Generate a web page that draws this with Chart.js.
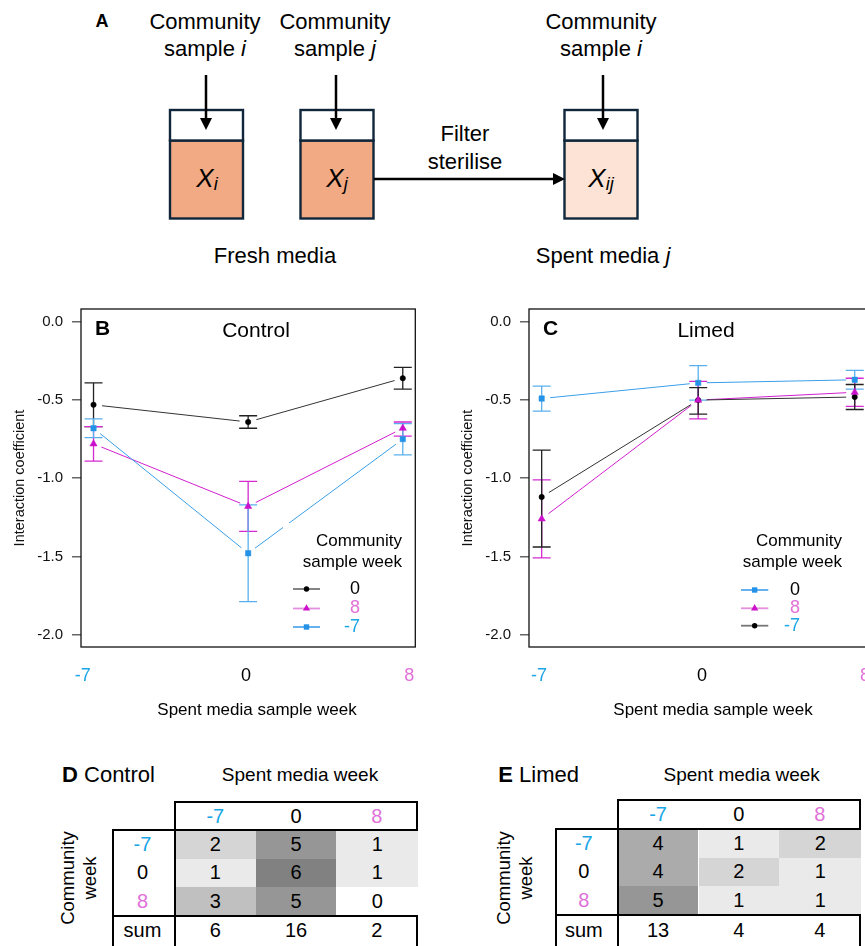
<!DOCTYPE html>
<html>
<head>
<meta charset="utf-8">
<script src="https://cdn.jsdelivr.net/npm/chart.js@4.4.1/dist/chart.umd.min.js"></script>
<style>
    html, body { margin: 0; padding: 0; background: #fff; }
    body { width: 865px; height: 946px; overflow: hidden; position: relative; font-family: "Liberation Sans", Arial, sans-serif; color: #000; }
    canvas { position: absolute; }
    .cell { position: absolute; display: flex; align-items: center; justify-content: center; font-size: 20px; }
    .rule { position: absolute; background: #000; }
    .txt { position: absolute; white-space: nowrap; }
</style>
</head>
<body>

<svg style="position:absolute;left:0;top:0" width="865" height="290" font-family="Liberation Sans, Arial, sans-serif">
    <text x="102" y="21" font-size="18" font-weight="bold" text-anchor="middle" dominant-baseline="central">A</text>
    <g font-size="22" text-anchor="middle" dominant-baseline="central">
        <text x="205" y="21">Community</text>
        <text x="205" y="48">sample <tspan font-style="italic">i</tspan></text>
        <text x="335" y="21">Community</text>
        <text x="335" y="48">sample <tspan font-style="italic">j</tspan></text>
        <text x="601" y="21">Community</text>
        <text x="601" y="48">sample <tspan font-style="italic">i</tspan></text>
        <text x="465" y="133">Filter</text>
        <text x="465" y="161">sterilise</text>
        <text x="275" y="255">Fresh media</text>
        <text x="603" y="255">Spent media <tspan font-style="italic">j</tspan></text>
    </g>
    <g stroke="#10263a" stroke-width="2.4">
        <rect x="170" y="140.5" width="73" height="78" fill="#f2aa84"/>
        <rect x="170" y="110" width="73" height="30.5" fill="#fff"/>
        <rect x="300.5" y="140.5" width="73" height="78" fill="#f2aa84"/>
        <rect x="300.5" y="110" width="73" height="30.5" fill="#fff"/>
        <rect x="564.5" y="140.5" width="73" height="78" fill="#fce3d5"/>
        <rect x="564.5" y="110" width="73" height="30.5" fill="#fff"/>
    </g>
    <g stroke="#000" stroke-width="2.5">
        <line x1="206" y1="75" x2="206" y2="120"/>
        <line x1="336" y1="75" x2="336" y2="120"/>
        <line x1="603" y1="75" x2="603" y2="120"/>
        <line x1="374" y1="179" x2="555" y2="179"/>
    </g>
    <g fill="#000">
        <polygon points="206,130 200,118 212,118"/>
        <polygon points="336,130 330,118 342,118"/>
        <polygon points="603,130 597,118 609,118"/>
        <polygon points="565,179 553,173 553,185"/>
    </g>
    <g font-size="26" font-style="italic" text-anchor="middle" dominant-baseline="central">
        <text x="207" y="178">X<tspan font-size="18" dy="6">i</tspan></text>
        <text x="337" y="178">X<tspan font-size="18" dy="6">j</tspan></text>
        <text x="601" y="178">X<tspan font-size="18" dy="6">ij</tspan></text>
    </g>
</svg>

<canvas id="control" width="420" height="425" style="left:0;top:300px"></canvas>
<canvas id="limed" width="440" height="425" style="left:448px;top:300px"></canvas>
<div id="tables"></div>

<script>
const FONT = '"Liberation Sans", Arial, sans-serif';

// weeks
const spentWeeks = ['-7', '0', '8'];
const communityWeeks = ['-7', '0', '8'];
const yTickValues = [0, -0.5, -1, -1.5, -2];

// B: control, interaction coefficient (mean and error bar ends) per spent media week
const controlWeek0Mean = [-0.53, -0.64, -0.36];
const controlWeek0Lo = [-0.67, -0.68, -0.43];
const controlWeek0Hi = [-0.39, -0.60, -0.29];
const controlWeek8Mean = [-0.78, -1.18, -0.68];
const controlWeek8Lo = [-0.89, -1.34, -0.73];
const controlWeek8Hi = [-0.67, -1.02, -0.64];
const controlWeekM7Mean = [-0.68, -1.48, -0.75];
const controlWeekM7Lo = [-0.74, -1.79, -0.85];
const controlWeekM7Hi = [-0.62, -1.17, -0.65];

// C: limed
const limedWeek0Mean = [-0.49, -0.39, -0.37];
const limedWeek0Lo = [-0.57, -0.50, -0.43];
const limedWeek0Hi = [-0.41, -0.28, -0.31];
const limedWeek8Mean = [-1.26, -0.50, -0.45];
const limedWeek8Lo = [-1.51, -0.62, -0.54];
const limedWeek8Hi = [-1.01, -0.38, -0.36];
const limedWeekM7Mean = [-1.12, -0.50, -0.48];
const limedWeekM7Lo = [-1.44, -0.59, -0.56];
const limedWeekM7Hi = [-0.82, -0.42, -0.40];

// D / E: counts (rows = community week, cols = spent media week)
const controlCounts = [[2, 5, 1], [1, 6, 1], [3, 5, 0]];
const controlSums = [6, 16, 2];
const limedCounts = [[4, 1, 2], [4, 2, 1], [5, 1, 1]];
const limedSums = [13, 4, 4];

const weekColours = { '-7': '#1aa6e6', '0': '#000000', '8': '#e070d8' };

const black = { line: '#333', bar: '#222', point: '#000', style: 'circle', radius: 2.7, legendLine: '#777' };
const magenta = { line: '#d21fcf', bar: '#d42ad0', point: '#cc11cc', style: 'triangle', radius: 4.2, legendLine: '#e58fe0' };
const blue = { line: '#3a9fe8', bar: '#5ab0ee', point: '#2492e6', style: 'rect', radius: 3.8, legendLine: '#55aaee' };

const controlSeries = [
    { week: '0', mean: controlWeek0Mean, lo: controlWeek0Lo, hi: controlWeek0Hi, ...black },
    { week: '8', mean: controlWeek8Mean, lo: controlWeek8Lo, hi: controlWeek8Hi, ...magenta },
    { week: '-7', mean: controlWeekM7Mean, lo: controlWeekM7Lo, hi: controlWeekM7Hi, ...blue }
];
const limedSeries = [
    { week: '0', mean: limedWeek0Mean, lo: limedWeek0Lo, hi: limedWeek0Hi, ...blue },
    { week: '8', mean: limedWeek8Mean, lo: limedWeek8Lo, hi: limedWeek8Hi, ...magenta },
    { week: '-7', mean: limedWeekM7Mean, lo: limedWeekM7Lo, hi: limedWeekM7Hi, ...black }
];

function marker(ctx, style, x, y, colour) {
    ctx.fillStyle = colour;
    ctx.beginPath();
    if (style === 'circle') ctx.arc(x, y, 2.7, 0, 2 * Math.PI);
    else if (style === 'rect') ctx.rect(x - 2.7, y - 2.7, 5.4, 5.4);
    else { ctx.moveTo(x, y - 4.2); ctx.lineTo(x + 3.6, y + 2.1); ctx.lineTo(x - 3.6, y + 2.1); ctx.closePath(); }
    ctx.fill();
}

// lines with a gap at each point (type "b") and error bars
const errorBars = {
    id: 'errorBars',
    beforeDatasetsDraw(chart) {
        const { ctx, scales: { y } } = chart;
        chart.data.datasets.forEach((ds, i) => {
            const pts = chart.getDatasetMeta(i).data;
            ctx.save();
            ctx.lineWidth = 1;
            ctx.strokeStyle = ds.lineColour;
            for (let k = 0; k < pts.length - 1; k++) {
                const a = pts[k], b = pts[k + 1];
                const dx = b.x - a.x, dy = b.y - a.y, g = 8.5 / Math.hypot(dx, dy);
                ctx.beginPath();
                ctx.moveTo(a.x + dx * g, a.y + dy * g);
                ctx.lineTo(b.x - dx * g, b.y - dy * g);
                ctx.stroke();
            }
            ctx.lineWidth = 1.3;
            ctx.strokeStyle = ds.barColour;
            pts.forEach((p, k) => {
                const top = y.getPixelForValue(ds.hi[k]);
                const bot = y.getPixelForValue(ds.lo[k]);
                ctx.beginPath();
                ctx.moveTo(p.x, top); ctx.lineTo(p.x, bot);
                ctx.moveTo(p.x - 9, top); ctx.lineTo(p.x + 9, top);
                ctx.moveTo(p.x - 9, bot); ctx.lineTo(p.x + 9, bot);
                ctx.stroke();
            });
            ctx.restore();
        });
    }
};

const panel = {
    id: 'panel',
    afterDatasetsDraw(chart, args, o) {
        const { ctx, chartArea: a } = chart;
        ctx.save();
        if (o.mask) {
            ctx.fillStyle = '#fff';
            ctx.fillRect(o.mask[0], o.mask[1], a.right - o.mask[0], a.bottom - o.mask[1]);
        }
        ctx.strokeStyle = '#111';
        ctx.lineWidth = 1.3;
        ctx.strokeRect(a.left, a.top, a.width, a.height);

        ctx.fillStyle = '#000';
        ctx.textBaseline = 'middle';
        ctx.font = 'bold 21px ' + FONT;
        ctx.textAlign = 'left';
        ctx.fillText(o.letter, a.left + 14, 29);
        ctx.font = '21px ' + FONT;
        ctx.textAlign = 'center';
        ctx.fillText(o.title, o.titleX, 31);
        ctx.font = '17px ' + FONT;
        ctx.fillText('Spent media sample week', o.xTitleX, 410);

        // legend
        ctx.textAlign = 'right';
        ctx.fillText('Community', o.headRight, o.headY[0]);
        ctx.fillText('sample week', o.headRight, o.headY[1]);
        ctx.font = '18px ' + FONT;
        chart.data.datasets.forEach((ds, k) => {
            const yy = o.rowY[k];
            ctx.strokeStyle = ds.legendLine;
            ctx.lineWidth = 1.8;
            ctx.beginPath();
            ctx.moveTo(o.lineX[0], yy);
            ctx.lineTo(o.lineX[1], yy);
            ctx.stroke();
            marker(ctx, ds.pointStyle, (o.lineX[0] + o.lineX[1]) / 2, yy, ds.pointBackgroundColor);
            ctx.fillStyle = weekColours[ds.label];
            ctx.fillText(ds.label, o.labelRight, yy);
        });
        ctx.restore();
    }
};

Chart.defaults.font.family = FONT;
Chart.defaults.color = '#111';

function criarPainel(id, series, deco, xl) {
    return new Chart(document.getElementById(id), {
        type: 'scatter',
        data: {
            datasets: series.map(s => ({
                label: s.week,
                data: s.mean.map((m, k) => ({ x: k + 1, y: m })),
                lo: s.lo,
                hi: s.hi,
                lineColour: s.line,
                barColour: s.bar,
                legendLine: s.legendLine,
                pointStyle: s.style,
                pointRadius: s.radius,
                pointBackgroundColor: s.point,
                pointBorderColor: s.point,
                pointBorderWidth: 0.5,
                xAxisID: 'x',
                yAxisID: 'y'
            }))
        },
        options: {
            responsive: false,
            animation: false,
            devicePixelRatio: 1,
            layout: { padding: { top: 9, right: deco.padRight, left: 0, bottom: 0 } },
            plugins: { legend: { display: false }, tooltip: { enabled: false }, panel: deco },
            scales: {
                x: { type: 'linear', display: false, min: 0.919, max: 3.081 },
                xl: {
                    type: 'linear',
                    position: 'bottom',
                    min: xl[0],
                    max: xl[1],
                    afterBuildTicks: s => { s.ticks = spentWeeks.map((w, k) => ({ value: k + 1 })); },
                    afterFit: s => { s.height = 78; s.paddingLeft = 0; s.paddingRight = 0; },
                    grid: { display: false },
                    border: { display: false },
                    ticks: {
                        padding: 10,
                        autoSkip: false,
                        maxRotation: 0,
                        font: { size: 18 },
                        color: c => weekColours[spentWeeks[c.index]],
                        callback: (v, k) => spentWeeks[k]
                    }
                },
                y: {
                    min: -2.08,
                    max: 0.083,
                    afterBuildTicks: s => { s.ticks = yTickValues.map(v => ({ value: v })); },
                    afterFit: s => { s.width = 81; s.paddingTop = 0; s.paddingBottom = 0; },
                    grid: { drawOnChartArea: false, tickLength: 9, color: '#666', lineWidth: 1.5 },
                    border: { display: false },
                    ticks: { padding: 9, font: { size: 15 }, color: '#111', callback: v => v.toFixed(1) },
                    title: { display: true, text: 'Interaction coefficient', font: { size: 14.5 }, color: '#111', padding: { top: 11.3, bottom: 0 } }
                }
            }
        },
        plugins: [errorBars, panel]
    });
}

criarPainel('control', controlSeries, {
    letter: 'B', title: 'Control', titleX: 256, xTitleX: 257, padRight: 1,
    mask: [283, 223],
    headRight: 402, headY: [241, 262], lineX: [293, 320], rowY: [289, 308.5, 327], labelRight: 360
}, [0.9885, 3.037]);

criarPainel('limed', limedSeries, {
    letter: 'C', title: 'Limed', titleX: 258, xTitleX: 265, padRight: 20.6,
    mask: null,
    headRight: 394, headY: [241.7, 262.3], lineX: [293, 320.3], rowY: [290, 308.3, 325.7], labelRight: 352
}, [0.939, 3.015]);

// tables D and E
function shade(v) {
    const g = Math.round(255 - 21 * v);
    return `rgb(${g},${g},${g})`;
}

const host = document.getElementById('tables');

function box(cls, x, y, w, h, text, css) {
    const d = document.createElement('div');
    d.className = cls;
    Object.assign(d.style, { left: x + 'px', top: y + 'px', width: w + 'px', height: h + 'px' }, css || {});
    if (text !== undefined) d.textContent = text;
    host.appendChild(d);
}

function texto(html, x, y, css) {
    const d = document.createElement('div');
    d.className = 'txt';
    d.innerHTML = html;
    Object.assign(d.style, { left: x + 'px', top: y + 'px', transform: 'translate(-50%,-50%)' }, css || {});
    host.appendChild(d);
}

function criarTabela(counts, sums, g) {
    const right = g.colLeft + spentWeeks.length * g.colW;
    spentWeeks.forEach((w, c) => {
        box('cell', g.colLeft + c * g.colW, g.headTop, g.colW, g.bodyTop - g.headTop, w, { color: weekColours[w] });
    });
    counts.forEach((row, r) => {
        const y = g.bodyTop + r * g.rowH;
        box('cell', g.labelLeft, y, g.colLeft - g.labelLeft - g.labelShift, g.rowH, communityWeeks[r], { color: weekColours[communityWeeks[r]] });
        row.forEach((v, c) => {
            box('cell', g.colLeft + c * g.colW, y, g.colW + (c === row.length - 1 ? 1 : 0), g.rowH, v, { background: shade(v) });
        });
    });
    const sumTop = g.bodyTop + counts.length * g.rowH;
    box('cell', g.labelLeft, sumTop, g.colLeft - g.labelLeft - g.labelShift, 946 - sumTop, 'sum');
    sums.forEach((v, c) => box('cell', g.colLeft + c * g.colW, sumTop, g.colW, 946 - sumTop, v));

    box('rule', g.colLeft - 1, g.headTop - 1, right - g.colLeft + 2, 2);
    box('rule', right - 1, g.headTop - 1, 2, g.bodyTop - g.headTop + 1);
    box('rule', g.labelLeft - 1, g.bodyTop - 1, right - g.labelLeft + 2, 2);
    box('rule', g.labelLeft - 1, sumTop - 1, right - g.labelLeft + 2, 2);
    box('rule', g.labelLeft - 1, g.bodyTop - 1, 2, 946 - g.bodyTop + 1);
    box('rule', g.colLeft - 1, g.headTop - 1, 2, 946 - g.headTop + 1);
    box('rule', right - 1, sumTop - 1, 2, 946 - sumTop + 1);

    texto(`<b>${g.letter}</b> ${g.title}`, g.headX, 775, { fontSize: '22px', transform: 'translate(0,-50%)' });
    texto('Spent media week', g.spentX, 775, { fontSize: '19px' });
    texto('Community<br>week', g.commX, 878, { fontSize: '18.5px', lineHeight: '21.7px', textAlign: 'center', transform: 'translate(-50%,-50%) rotate(-90deg)' });
}

criarTabela(controlCounts, controlSums, {
    letter: 'D', title: 'Control', headX: 62, spentX: 300, commX: 79.2,
    labelLeft: 113, colLeft: 175, colW: 80.7, headTop: 802, bodyTop: 830, rowH: 28.67, labelShift: 3
});
criarTabela(limedCounts, limedSums, {
    letter: 'E', title: 'Limed', headX: 498.3, spentX: 741.7, commX: 514.5,
    labelLeft: 556, colLeft: 617.7, colW: 80.8, headTop: 800, bodyTop: 829, rowH: 28.67, labelShift: 6
});
</script>
</body>
</html>
